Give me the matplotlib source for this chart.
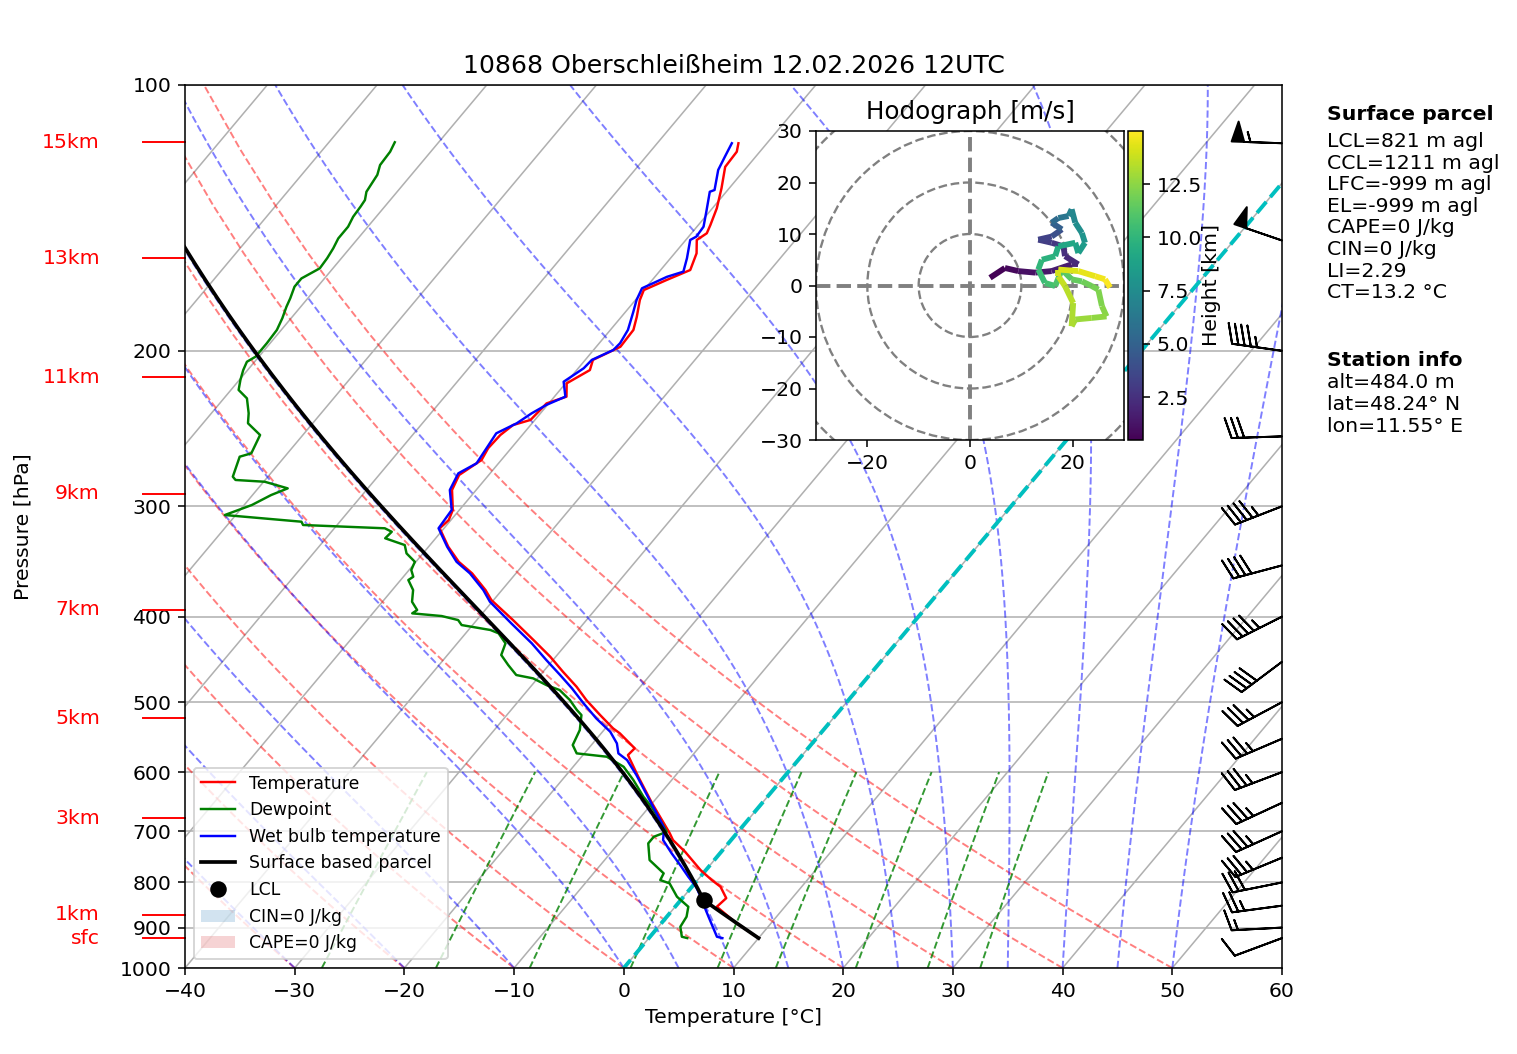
import numpy as np
import matplotlib
matplotlib.use('Agg')
import matplotlib.pyplot as plt
import matplotlib.transforms as mtransforms
from matplotlib.collections import LineCollection
from matplotlib.lines import Line2D
from matplotlib.patches import Patch, Circle

plt.rcParams['font.size'] = 10.5

# sounding values (hPa, degC)
temp_p = [116.4, 119.0, 123.8, 130.9, 137.9, 144.1, 147.2, 149.8, 155.1, 162.0,
          166.3, 170.7, 175.2, 183.0, 189.4, 197.9, 204.8, 210.3, 217.7, 225.4,
          229.4, 239.5, 242.7, 249.1, 257.8, 265.9, 276.5, 287.5, 302.9, 311.0,
          317.7, 333.4, 346.7, 357.3, 373.2, 383.1, 403.6, 425.2, 444.1, 461.8,
          480.3, 497.2, 517.0, 535.3, 542.3, 563.9, 573.9, 586.5, 607.3, 651.0,
          703.9, 716.3, 738.5, 774.5, 795.1, 809.0, 833.5, 852.4, 888.0, 925.0]
temp_t = [-52.6, -52.1, -52.0, -50.7, -49.6, -48.9, -48.6, -49.0, -48.0, -47.3,
          -48.7, -50.0, -49.6, -48.6, -47.9, -47.8, -49.3, -48.8, -49.9, -48.9,
          -50.2, -50.4, -51.6, -52.0, -52.1, -51.8, -52.7, -52.2, -50.6, -50.2,
          -50.4, -48.2, -46.1, -44.0, -41.5, -40.2, -36.7, -33.3, -30.5, -28.2,
          -25.8, -23.9, -21.5, -19.3, -18.3, -15.8, -15.9, -14.9, -13.3, -10.0,
          -6.1, -5.3, -3.3, -0.5, 1.3, 2.6, 4.0, 3.8, 6.7, 10.0]

dew_p = [116.1, 119.0, 123.2, 126.4, 132.1, 135.0, 137.3, 141.0, 144.7, 149.2,
         153.1, 157.1, 161.3, 165.6, 169.2, 174.4, 178.3, 183.7, 189.4, 196.1,
         203.1, 205.8, 210.3, 215.8, 221.5, 226.4, 235.4, 241.6, 249.1, 261.3,
         263.6, 277.7, 280.1, 281.4, 286.3, 291.3, 299.0, 306.9, 312.3, 315.0,
         317.7, 320.6, 326.1, 331.9, 339.2, 346.7, 354.2, 360.5, 363.6, 373.2,
         384.8, 393.2, 396.6, 399.4, 403.6, 408.9, 414.2, 417.8, 428.9, 442.1,
         453.8, 465.8, 469.9, 478.1, 484.4, 497.2, 510.3, 517.0, 537.7, 559.1,
         571.4, 576.4, 591.7, 612.5, 639.8, 656.8, 679.9, 701.0, 710.2, 722.5,
         754.7, 781.3, 795.1, 801.9, 830.4, 852.4, 874.8, 898.0, 921.7, 925.0]
dew_t = [-84.0, -83.7, -83.6, -83.1, -82.8, -82.3, -82.2, -82.1, -81.8, -81.8,
         -81.5, -81.3, -81.2, -82.1, -82.1, -81.6, -81.3, -80.8, -80.4, -80.3,
         -80.3, -80.7, -80.4, -79.9, -79.3, -77.9, -76.6, -75.9, -73.9, -73.3,
         -74.1, -73.2, -72.7, -69.9, -67.3, -68.3, -69.3, -71.0, -63.5, -63.1,
         -55.4, -54.5, -54.6, -52.3, -51.5, -50.1, -49.8, -49.1, -49.3, -48.1,
         -47.3, -46.2, -46.4, -43.5, -41.7, -41.0, -38.0, -37.0, -35.6, -35.1,
         -33.7, -32.2, -30.4, -28.7, -27.1, -25.4, -24.0, -23.2, -22.2, -21.7,
         -20.7, -17.7, -15.4, -13.5, -11.3, -9.8, -8.0, -6.5, -7.3, -7.3,
         -5.9, -3.6, -3.4, -2.3, -0.6, 1.2, 1.8, 2.0, 2.9, 3.5]

wb_p = [116.4, 120.6, 124.8, 131.5, 132.1, 139.1, 144.7, 148.5, 149.8, 157.1,
        162.7, 164.9, 169.9, 175.2, 180.6, 189.4, 196.1, 199.6, 204.8, 209.3,
        216.8, 225.4, 230.3, 235.4, 241.6, 248.0, 255.7, 268.2, 275.3, 287.5,
        302.9, 317.7, 333.4, 346.7, 357.3, 373.2, 384.8, 407.1, 428.9, 448.0,
        465.8, 482.3, 501.5, 521.5, 540.0, 556.7, 571.4, 581.4, 604.6, 642.5,
        681.3, 694.8, 716.3, 741.6, 766.4, 788.2, 812.4, 837.5, 874.8, 921.7, 925.0]
wb_t = [-53.2, -52.8, -52.4, -51.2, -51.5, -50.3, -49.4, -49.3, -49.6, -48.5,
        -47.8, -48.9, -50.3, -49.9, -49.3, -48.4, -48.1, -48.2, -49.4, -49.5,
        -50.3, -49.0, -50.1, -50.8, -51.4, -52.5, -52.3, -52.0, -52.9, -52.4,
        -50.7, -50.5, -48.3, -46.3, -44.2, -41.7, -40.2, -36.6, -33.2, -30.6,
        -28.2, -26.1, -23.9, -21.6, -19.3, -17.8, -16.9, -15.6, -13.6, -10.7,
        -7.9, -7.0, -6.2, -4.4, -2.6, -1.1, 0.6, 1.9, 3.8, 6.1, 6.7]

# wind barbs (knots)
barb_p = [116.4, 150, 200, 250, 300, 350, 400, 450, 500, 550, 600, 650, 700,
          750, 800, 850, 900, 925]
barb_u = [55.0, 47.3, 44.6, 30.0, 41.9, 38.6, 40.2, 32.0, 30.9, 32.2, 32.7,
          31.7, 31.9, 32.3, 29.4, 24.8, 15.0, 9.4]
barb_v = [-1.9, -16.2, -6.3, 1.0, 16.3, 10.3, 20.3, 24.0, 16.5, 13.8, 12.4,
          14.7, 14.4, 13.4, 5.9, 3.3, 0.8, 3.5]

# hodograph (m/s) and height (km)
hodo_u = [3.9, 6.8, 9.4, 12.7, 15.9, 19.8, 21.1, 18.5, 18.2, 15.9, 13.3, 15.9,
          17.9, 15.9, 17.2, 19.2, 19.8, 20.5, 21.8, 22.4, 21.1, 20.5, 17.2, 16.6,
          14.0, 13.3, 14.6, 16.6, 17.9, 19.8, 21.8, 23.7, 25.0, 25.7, 26.6, 23.7,
          20.5, 19.8, 20.1, 18.5, 17.2, 17.2, 21.1, 24.4, 26.3, 27.3]
hodo_v = [1.5, 3.4, 2.8, 2.5, 2.8, 4.1, 4.1, 5.7, 7.6, 8.3, 8.9, 9.5,
          10.9, 12.2, 13.1, 13.5, 14.8, 12.2, 10.2, 8.3, 6.3, 8.3, 7.6, 5.7,
          5.0, 3.1, 0.5, -0.1, 3.1, 1.2, 0.8, -0.1, -0.8, -4.0, -6.0, -6.3,
          -6.6, -7.9, -3.4, -0.1, 1.8, 3.1, 2.8, 1.8, 1.2, -0.4]
hodo_z = [0.48, 0.7, 0.9, 1.2, 1.5, 1.8, 2.0, 2.3, 2.6, 2.9, 3.2, 3.5,
          4.6, 5.2, 5.8, 6.5, 7.0, 7.4, 7.8, 8.2, 8.6, 9.0, 9.3, 9.6,
          9.9, 10.2, 10.5, 10.8, 11.1, 11.4, 11.7, 11.9, 12.1, 12.3, 12.5, 12.7,
          12.9, 13.1, 13.3, 13.6, 13.9, 14.1, 14.3, 14.6, 14.8, 15.0]

alt_names = ['15km', '13km', '11km', '9km', '7km', '5km', '3km', '1km', 'sfc']
alt_p = [116.1, 157.1, 214.3, 290.4, 393.1, 521.1, 676.4, 870.9, 924.8]

parcel_lines = ['LCL=821 m agl', 'CCL=1211 m agl', 'LFC=-999 m agl', 'EL=-999 m agl',
                'CAPE=0 J/kg', 'CIN=0 J/kg', 'LI=2.29', 'CT=13.2 °C']
station_lines = ['alt=484.0 m', 'lat=48.24° N', 'lon=11.55° E']

mix_w = [0.0004, 0.001, 0.002, 0.004, 0.007, 0.01, 0.016, 0.024, 0.032]

K_SKEW = 67.5   # degC of shift per decade of pressure


def skx(t, p):
    return np.asarray(t, float) + K_SKEW * np.log10(1000.0 / np.asarray(p, float))


def sat_vp(tc):
    return 6.112 * np.exp(17.67 * tc / (tc + 243.5))


def moist_dtdp(t, p):
    rd, cp, lv, eps = 287.04, 1005.7, 2.501e6, 0.622
    es = sat_vp(t - 273.15)
    rs = eps * es / (p - es)
    return (rd * t + lv * rs) / (cp + lv * lv * rs * eps / (rd * t * t)) / p


def moist_lapse(t0, pres):
    out = [t0]
    t = t0
    for i in range(len(pres) - 1):
        p0, p1 = pres[i], pres[i + 1]
        h = p1 - p0
        k1 = moist_dtdp(t, p0)
        k2 = moist_dtdp(t + h / 2 * k1, p0 + h / 2)
        k3 = moist_dtdp(t + h / 2 * k2, p0 + h / 2)
        k4 = moist_dtdp(t + h * k3, p1)
        t = t + h / 6 * (k1 + 2 * k2 + 2 * k3 + k4)
        out.append(t)
    return np.array(out)


W, H, DPI = 1517, 1054, 140
fig = plt.figure(figsize=(W / DPI, H / DPI), dpi=DPI)
ax = fig.add_axes([185 / W, 1 - 968 / H, 1097 / W, 883 / H])
ax.set_yscale('log')

# isotherms (skewed grid)
p_edge = np.array([1050.0, 95.0])
for t in range(-200, 61, 10):
    ax.plot(skx(t, p_edge), p_edge, color='#b0b0b0', lw=0.8, zorder=0.5)
ax.yaxis.grid(True, color='#b0b0b0', lw=0.8)
ax.set_axisbelow(True)

# dry adiabats
p_ad = np.linspace(1000, 100, 50)
for t0 in range(-40, 51, 10):
    tk = (t0 + 273.15) * (p_ad / 1000.0) ** 0.2857 - 273.15
    ax.plot(skx(tk, p_ad), p_ad, color='r', alpha=0.5, lw=1, ls='--', zorder=1)

# moist adiabats
p_fine = np.linspace(1000, 100, 451)
for t0 in list(range(-40, 0, 10)) + list(range(0, 51, 5)):
    tm = moist_lapse(t0 + 273.15, p_fine) - 273.15
    ax.plot(skx(tm, p_fine), p_fine, color='b', alpha=0.5, lw=1, ls='--', zorder=1)

# mixing ratio lines
p_mix = np.linspace(1000, 600, 20)
for w in mix_w:
    e = p_mix * w / (0.622 + w)
    lne = np.log(e / 6.112)
    td = 243.5 * lne / (17.67 - lne)
    ax.plot(skx(td, p_mix), p_mix, color='g', alpha=0.8, lw=1, ls='--', zorder=1)

# 0 degC isotherm
ax.plot(skx(0, p_edge), p_edge, color='c', lw=2, ls='--', zorder=2)

# profiles
ax.plot(skx(temp_t, temp_p), temp_p, color='r', lw=1.25, zorder=3)
ax.plot(skx(dew_t, dew_p), dew_p, color='g', lw=1.25, zorder=3)
ax.plot(skx(wb_t, wb_p), wb_p, color='b', lw=1.25, zorder=3)

# surface based parcel
sfc_p, sfc_t, sfc_td = temp_p[-1], temp_t[-1], dew_t[-1]
tk_s, tdk_s = sfc_t + 273.15, sfc_td + 273.15
lcl_tk = 1.0 / (1.0 / (tdk_s - 56.0) + np.log(tk_s / tdk_s) / 800.0) + 56.0
lcl_p = sfc_p * (lcl_tk / tk_s) ** (1 / 0.2857)
p_dry = np.linspace(sfc_p, lcl_p, 30)
t_dry = tk_s * (p_dry / sfc_p) ** 0.2857 - 273.15
p_wet = np.linspace(lcl_p, 100, 400)
t_wet = moist_lapse(lcl_tk, p_wet) - 273.15
par_p = np.concatenate([p_dry, p_wet[1:]])
par_t = np.concatenate([t_dry, t_wet[1:]])
ax.plot(skx(par_t, par_p), par_p, color='k', lw=1.9, zorder=4)
ax.plot(skx(lcl_tk - 273.15, lcl_p), lcl_p, 'ko', ms=7.5, zorder=5)

ax.set_xlim(-40, 60)
ax.set_ylim(1000, 100)
ax.set_yticks(range(100, 1001, 100))
ax.set_yticklabels([str(v) for v in range(100, 1001, 100)])
ax.yaxis.set_minor_locator(matplotlib.ticker.NullLocator())
ax.set_xticks(range(-40, 61, 10))
ax.set_xlabel('Temperature [°C]')
ax.set_ylabel('Pressure [hPa]')
ax.yaxis.set_label_coords(-0.139, 0.5)
ax.set_title('10868 Oberschleißheim 12.02.2026 12UTC', fontsize=12.9)

# barbs on the right edge
trans = mtransforms.blended_transform_factory(ax.transAxes, ax.transData)
ax.barbs(np.ones(len(barb_p)), barb_p, barb_u, barb_v, transform=trans,
         clip_on=False, length=7.2, color='k', zorder=6)

# height labels on the left
for name, p in zip(alt_names, alt_p):
    ax.plot([-0.0383, 0], [p, p], color='r', lw=1, transform=trans, clip_on=False)
    ax.text(-0.0775, p, name, color='r', ha='right', va='center', transform=trans)

handles = [Line2D([], [], color='r', lw=1.25, label='Temperature'),
           Line2D([], [], color='g', lw=1.25, label='Dewpoint'),
           Line2D([], [], color='b', lw=1.25, label='Wet bulb temperature'),
           Line2D([], [], color='k', lw=1.9, label='Surface based parcel'),
           Line2D([], [], color='k', marker='o', ms=7.5, ls='none', label='LCL'),
           Patch(facecolor='tab:blue', alpha=0.2, label='CIN=0 J/kg'),
           Patch(facecolor='tab:red', alpha=0.2, label='CAPE=0 J/kg')]
leg = ax.legend(handles=handles, loc='lower left', fontsize=8.9)
leg.set_zorder(10)

# hodograph inset
hax = fig.add_axes([816 / W, 1 - 440 / H, 308 / W, 309 / H])
for r in (10, 20, 30, 40):
    hax.add_patch(Circle((0, 0), r, fill=False, color='grey', ls='--', lw=1.2))
hax.axhline(0, color='grey', ls='--', lw=2)
hax.axvline(0, color='grey', ls='--', lw=2)
pts = np.array([hodo_u, hodo_v]).T.reshape(-1, 1, 2)
segs = np.concatenate([pts[:-1], pts[1:]], axis=1)
zc = np.array(hodo_z)
lc = LineCollection(segs, cmap='viridis', norm=plt.Normalize(zc.min(), zc.max()),
                    lw=3.0)
lc.set_array(0.5 * (zc[:-1] + zc[1:]))
hax.add_collection(lc)
hax.set_xlim(-30, 30)
hax.set_ylim(-30, 30)
hax.set_xticks([-20, 0, 20])
hax.set_yticks(range(-30, 31, 10))
hax.set_title('Hodograph [m/s]', fontsize=12.7)
cax = fig.add_axes([1128 / W, 1 - 440 / H, 15 / W, 309 / H])
cb = fig.colorbar(lc, cax=cax)
cb.set_ticks([2.5, 5.0, 7.5, 10.0, 12.5])
cb.set_label('Height [km]', labelpad=0)

# text block on the right
x_txt = 1327 / W
fig.text(x_txt, 1 - 114 / H, 'Surface parcel', fontweight='bold', va='center')
for i, s in enumerate(parcel_lines):
    fig.text(x_txt, 1 - (141.7 + 21.57 * i) / H, s, va='center')
fig.text(x_txt, 1 - 360 / H, 'Station info', fontweight='bold', va='center')
for i, s in enumerate(station_lines):
    fig.text(x_txt, 1 - (382.3 + 21.85 * i) / H, s, va='center')

fig.savefig('out.png', dpi=DPI)
